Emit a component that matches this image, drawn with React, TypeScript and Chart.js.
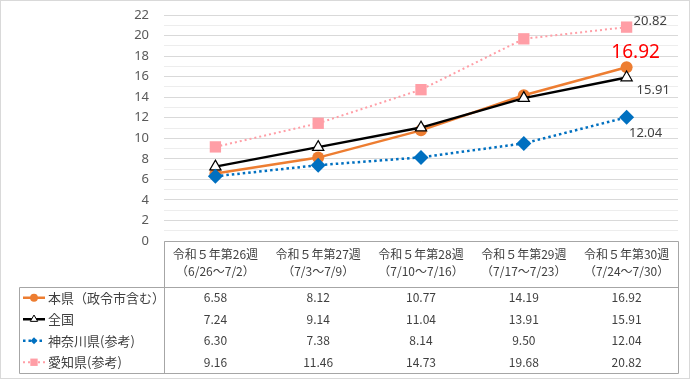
import React, { useEffect, useRef } from "react";
import { Chart, registerables } from "chart.js";

Chart.register(...registerables);

const weekLabels = ["令和５年第26週", "令和５年第27週", "令和５年第28週", "令和５年第29週", "令和５年第30週"];
const dateLabels = ["（6/26～7/2）", "（7/3～7/9）", "（7/10～7/16）", "（7/17～7/23）", "（7/24～7/30）"];
const seriesNames = ["本県（政令市含む）", "全国", "神奈川県(参考)", "愛知県(参考)"];
const honken = [6.58, 8.12, 10.77, 14.19, 16.92];
const zenkoku = [7.24, 9.14, 11.04, 13.91, 15.91];
const kanagawa = [6.3, 7.38, 8.14, 9.5, 12.04];
const aichi = [9.16, 11.46, 14.73, 19.68, 20.82];
const yMin = 0;
const yMax = 22;

const ORANGE = "#ED7D31";
const BLACK = "#000000";
const BLUE = "#0070C0";
const PINK = "#FF9EA6";
const CJK = '"Noto Sans CJK JP", "Noto Sans", sans-serif';

function drawMarker(ctx: CanvasRenderingContext2D, style: string, x: number, y: number, r: number, fill: string, stroke: string) {
  ctx.save();
  ctx.fillStyle = fill;
  ctx.strokeStyle = stroke;
  ctx.lineWidth = 1;
  ctx.setLineDash([]);
  ctx.beginPath();
  if (style === "circle") {
    ctx.arc(x, y, r, 0, Math.PI * 2);
    ctx.fill();
  } else if (style === "triangle") {
    const h = r * 1.5;
    const w = r * Math.sqrt(3);
    ctx.moveTo(x, y - r);
    ctx.lineTo(x + w / 2, y - r + h);
    ctx.lineTo(x - w / 2, y - r + h);
    ctx.closePath();
    ctx.fill();
    ctx.stroke();
  } else if (style === "rectRot") {
    const s = r * Math.SQRT1_2;
    ctx.moveTo(x, y - s);
    ctx.lineTo(x + s, y);
    ctx.lineTo(x, y + s);
    ctx.lineTo(x - s, y);
    ctx.closePath();
    ctx.fill();
  } else {
    const s = r * Math.SQRT1_2;
    ctx.rect(x - s, y - s, 2 * s, 2 * s);
    ctx.fill();
  }
  ctx.restore();
}

export default function App() {
  const ref = useRef<HTMLCanvasElement | null>(null);

  useEffect(() => {
    document.body.style.margin = "0";
    const canvas = ref.current;
    if (!canvas) return;

    const seriesData = [honken, zenkoku, kanagawa, aichi];
    const styles = [
      { color: ORANGE, fill: ORANGE, point: "circle", dash: [] as number[], width: 2.5, r: 6 },
      { color: BLACK, fill: "#ffffff", point: "triangle", dash: [] as number[], width: 2.5, r: 6.5 },
      { color: BLUE, fill: BLUE, point: "rectRot", dash: [2.5, 3], width: 2.5, r: 7.5 },
      { color: PINK, fill: PINK, point: "rect", dash: [2, 3], width: 2, r: 8 },
    ];
    const orders = [2, 1, 0, 3];

    const tablePlugin = {
      id: "tablePlugin",
      beforeDraw(chart: any) {
        const ctx = chart.ctx;
        ctx.save();
        ctx.fillStyle = "#ffffff";
        ctx.fillRect(0, 0, chart.width, chart.height);
        ctx.strokeStyle = "#D9D9D9";
        ctx.lineWidth = 1;
        ctx.strokeRect(0.5, 0.5, chart.width - 1, chart.height - 1);
        ctx.restore();
      },
      afterDraw(chart: any) {
        const ctx = chart.ctx;
        const area = chart.chartArea;
        const xs = chart.scales.x;
        const ys = chart.scales.y;
        const left = area.left;
        const right = area.right;
        const top = area.bottom;
        const legendLeft = 19;
        const headerBottom = top + 46;
        const rowH = 21.5;
        const bottom = headerBottom + rowH * 4;

        ctx.save();
        ctx.strokeStyle = "#A6A6A6";
        ctx.lineWidth = 1;
        const line = (x1: number, y1: number, x2: number, y2: number) => {
          ctx.beginPath();
          ctx.moveTo(x1, y1);
          ctx.lineTo(x2, y2);
          ctx.stroke();
        };
        const r = (v: number) => Math.round(v) + 0.5;
        line(r(left), r(top), r(right), r(top));
        line(r(legendLeft), r(headerBottom), r(right), r(headerBottom));
        line(r(legendLeft), r(bottom), r(right), r(bottom));
        line(r(legendLeft), r(headerBottom), r(legendLeft), r(bottom));
        line(r(left), r(top), r(left), r(bottom));
        line(r(right), r(top), r(right), r(bottom));

        ctx.fillStyle = "#404040";
        ctx.textAlign = "center";
        ctx.textBaseline = "middle";
        ctx.font = `12px ${CJK}`;
        weekLabels.forEach((lab, i) => {
          const cx = xs.getPixelForValue(i);
          ctx.fillText(lab, cx, top + 13);
          ctx.fillText(dateLabels[i], cx, top + 30);
        });

        seriesData.forEach((arr, si) => {
          const cy = headerBottom + rowH * si + rowH / 2;
          ctx.fillStyle = "#404040";
          ctx.font = `12px ${CJK}`;
          ctx.textAlign = "center";
          arr.forEach((v, i) => {
            ctx.fillText(v.toFixed(2), xs.getPixelForValue(i), cy);
          });
          const st = styles[si];
          ctx.save();
          ctx.strokeStyle = st.color;
          ctx.lineWidth = st.width;
          ctx.setLineDash(st.dash);
          ctx.beginPath();
          ctx.moveTo(23, cy);
          ctx.lineTo(45, cy);
          ctx.stroke();
          ctx.restore();
          drawMarker(ctx, st.point, 34, cy, st.r * 0.65, st.fill, st.color);
          ctx.fillStyle = "#404040";
          ctx.font = `13px ${CJK}`;
          ctx.textAlign = "left";
          ctx.fillText(seriesNames[si], 48, cy);
        });

        const lastI = weekLabels.length - 1;
        const px = xs.getPixelForValue(lastI);
        ctx.textBaseline = "middle";
        ctx.textAlign = "left";
        ctx.fillStyle = "#404040";
        ctx.font = `13px "Noto Sans", sans-serif`;
        ctx.fillText(aichi[lastI].toFixed(2), px + 7, ys.getPixelForValue(aichi[lastI]) - 6);
        ctx.fillText(zenkoku[lastI].toFixed(2), px + 10, ys.getPixelForValue(zenkoku[lastI]) + 13);
        ctx.textAlign = "center";
        ctx.fillText(kanagawa[lastI].toFixed(2), px + 19, ys.getPixelForValue(kanagawa[lastI]) + 16);
        ctx.fillStyle = "#FF0000";
        ctx.font = `19px "Noto Sans", sans-serif`;
        ctx.fillText(honken[lastI].toFixed(2), px + 9, ys.getPixelForValue(honken[lastI]) - 15);
        ctx.restore();
      },
    };

    const chart = new Chart(canvas, {
      type: "line",
      data: {
        labels: weekLabels,
        datasets: seriesData.map((arr, i) => ({
          label: seriesNames[i],
          data: arr,
          borderColor: styles[i].color,
          backgroundColor: styles[i].fill,
          borderWidth: styles[i].width,
          borderDash: styles[i].dash,
          pointStyle: styles[i].point as any,
          pointRadius: styles[i].r,
          pointBackgroundColor: styles[i].fill,
          pointBorderColor: styles[i].color,
          pointBorderWidth: i === 1 ? 1.2 : 0,
          tension: 0,
          fill: false,
          order: orders[i],
          clip: false,
        })),
      },
      options: {
        responsive: false,
        animation: false,
        layout: { padding: { left: 0, right: 12, top: 15, bottom: 138 } },
        plugins: { legend: { display: false }, tooltip: { enabled: false } },
        scales: {
          x: { type: "category", offset: true, display: false },
          y: {
            min: yMin,
            max: yMax,
            border: { display: false },
            grid: {
              color: (c: any) => (c.tick && c.tick.value % 2 === 0 ? "#D9D9D9" : "#EDEDED"),
              drawTicks: false,
            },
            ticks: {
              stepSize: 1,
              autoSkip: false,
              padding: 15,
              color: "#595959",
              font: { size: 13, family: '"Noto Sans", sans-serif' },
              callback: (v: any) => (Number(v) % 2 === 0 ? String(v) : ""),
            },
            afterFit: (scale: any) => {
              scale.width = 164;
              scale.paddingTop = 0;
              scale.paddingBottom = 0;
            },
          },
        },
      },
      plugins: [tablePlugin],
    });
    return () => chart.destroy();
  }, []);

  return (
    <div style={{ width: 690, height: 379 }}>
      <canvas ref={ref} width={690} height={379} style={{ display: "block" }} />
    </div>
  );
}
